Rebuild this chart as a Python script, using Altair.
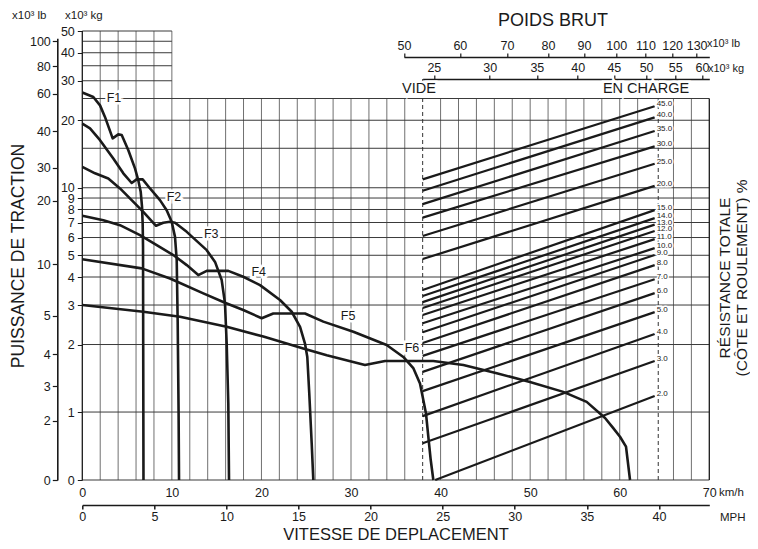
import math
import altair as alt
import pandas as pd

FONT = "Liberation Sans"
INK = "#1a1a1a"
GRID_V = "#707070"
GRID_H = "#3a3a3a"

# ---------------- axis ticks ----------------
speed_ticks_kmh = [0, 10, 20, 30, 40, 50, 60, 70]
speed_ticks_mph = [0, 5, 10, 15, 20, 25, 30, 35, 40]
force_ticks_kg = [0, 1, 2, 3, 4, 5, 6, 7, 8, 9, 10, 20, 30, 40, 50]
force_ticks_lb = ["0", "2", "3", "4", "5", "10", "20", "30", "40", "60", "80", "100"]
force_ticks_lb_at_kg = [0, 0.87, 1.30, 1.81, 2.69, 4.55, 8.74, 12.3, 17.9, 26.3, 34.9, 45.0]
weight_ticks_lb = [50, 60, 70, 80, 90, 100, 110, 120, 130]
weight_ticks_kg = [25, 30, 35, 40, 45, 50, 55, 60]
grid_kg_full = [0, 1, 2, 3, 4, 5, 6, 7, 8, 9, 10, 15, 20, 25]
grid_kg_top = [30, 35, 40, 45, 50]

# ---------------- rimpull curves (km/h, kg x1000) ----------------
F1_x = [0, 1.23, 1.98, 2.53, 3.39, 4.02, 4.40, 5.14, 5.88, 6.25, 6.52, 6.67, 6.74, 6.78, 6.80, 6.83]
F1_y = [26.6, 25.4, 23.3, 20.7, 16.6, 17.3, 17.2, 14.7, 12.2, 10.8, 9.6, 8.2, 6.9, 5.45, 2.0, 0]
F2_x = [0, 0.86, 1.98, 3.46, 4.58, 5.51, 6.07, 6.74, 7.56, 8.67, 9.42, 9.98, 10.35, 10.54, 10.65, 10.75, 10.8]
F2_y = [19.3, 18.4, 16.3, 13.5, 11.6, 10.5, 10.9, 10.9, 9.93, 8.81, 7.94, 7.05, 6.04, 4.76, 2.5, 1.0, 0]
F3_x = [0, 1.42, 2.9, 4.21, 5.51, 6.81, 8.23, 9.04, 9.79, 10.35, 11.66, 13.89, 14.82, 15.56, 15.93, 16.12, 16.3, 16.38]
F3_y = [12.4, 11.6, 11.0, 9.93, 8.81, 7.81, 6.77, 6.98, 7.05, 6.98, 6.36, 5.27, 4.67, 3.88, 3.05, 2.02, 1.09, 0]
F4_x = [0, 2.35, 4.21, 6.44, 8.31, 10.16, 11.66, 12.95, 13.89, 16.3, 17.97, 19.84, 22.07, 23.38, 24.31, 24.86, 25.12, 25.34, 25.61, 25.79]
F4_y = [7.5, 7.17, 6.81, 6.15, 5.55, 5.01, 4.52, 4.08, 4.26, 4.26, 4.01, 3.68, 3.16, 2.80, 2.40, 2.02, 1.76, 1.21, 0.54, 0]
F5_x = [0, 6.63, 9.79, 13.51, 15.93, 17.97, 20.03, 21.32, 24.86, 26.91, 30.26, 33.98, 35.84, 36.95, 37.7, 38.0, 38.37, 38.63, 38.9, 39.19]
F5_y = [4.8, 4.37, 3.94, 3.38, 3.07, 2.85, 2.62, 2.75, 2.75, 2.53, 2.28, 1.99, 1.76, 1.57, 1.34, 1.17, 0.98, 0.637, 0.294, 0]
F6_x = [0, 6.81, 10.91, 16.12, 20.21, 24.67, 27.29, 31.56, 33.8, 39.19, 42.54, 46.27, 49.98, 53.7, 56.31, 58.36, 59.3, 60.03, 60.7, 61.15]
F6_y = [3.0, 2.80, 2.66, 2.40, 2.17, 1.92, 1.79, 1.62, 1.69, 1.69, 1.62, 1.49, 1.36, 1.23, 1.11, 0.912, 0.76, 0.637, 0.49, 0]

curve_names = ["F1", "F2", "F3", "F4", "F5", "F6"]
curve_xs = [F1_x, F2_x, F3_x, F4_x, F5_x, F6_x]
curve_ys = [F1_y, F2_y, F3_y, F4_y, F5_y, F6_y]
curve_label_x = [3.54, 10.24, 14.4, 19.7, 29.67, 36.8]
curve_label_y = [25.1, 9.08, 6.22, 4.21, 2.68, 1.93]

# ---------------- total resistance lines ----------------
res_pct = [45, 40, 35, 30, 25, 20, 15, 14, 13, 12, 11, 10, 9, 8, 7, 6, 5, 4, 3, 2]
res_start_kg = [10.9, 9.70, 8.45, 7.36, 6.09, 4.81, 3.50, 3.29, 3.09, 2.91, 2.71, 2.49, 2.27, 2.03, 1.78, 1.51, 1.24, 0.94, 0.54, 0]
res_end_kg = [23.1, 20.6, 17.9, 15.3, 12.8, 10.2, 7.95, 7.32, 6.85, 6.41, 5.90, 5.38, 5.01, 4.52, 3.91, 3.39, 2.79, 2.23, 1.69, 1.18]
res_start_kmh = [38.0] * 19 + [39.4]
res_end_kmh = [63.9] * 20

empty_kmh = 38.0      # VIDE
loaded_kmh = 64.3     # EN CHARGE

# ---------------- geometry ----------------
W, H = 627, 449
K = 3.3
UMAX = 1 + K * math.log10(50)
PX_PER_U = H / UMAX
KMH_PER_MPH = 1.609344


def to_u(kg):
    return kg if kg <= 1 else 1 + K * math.log10(kg)


def u_expr(f):
    return f"datum.{f} <= 1 ? datum.{f} : 1 + {K} * log(datum.{f}) / LN10"


X_MAIN = alt.Scale(domain=[0, 70], nice=False, zero=False)
Y_MAIN = alt.Scale(domain=[0, UMAX], nice=False, zero=False)

# ---------------- grid ----------------
vrows = []
for x in range(2, 70, 2):
    if x in (38, 64):
        continue
    vrows.append({"x": x, "k0": 0, "k1": 50 if x <= 10 else 25})
vgrid = alt.Chart(pd.DataFrame(vrows)).transform_calculate(
    u0=u_expr("k0"), u1=u_expr("k1")
).mark_rule(color=GRID_V, strokeWidth=1).encode(
    x=alt.X("x:Q", scale=X_MAIN, axis=alt.Axis(
        orient="bottom", values=speed_ticks_kmh, title=None, tickSize=0,
        labelPadding=6, domain=False, grid=False, labelFlush=False,
        labelOverlap=False, labelFontSize=12.5, labelColor=INK, labelFont=FONT)),
    y=alt.Y("u0:Q", scale=Y_MAIN, axis=None),
    y2="u1:Q",
)

border = alt.Chart(pd.DataFrame([{"x": 0, "k0": 0, "k1": 50}, {"x": 70, "k0": 0, "k1": 25}])).transform_calculate(
    u0=u_expr("k0"), u1=u_expr("k1")
).mark_rule(color=INK, strokeWidth=1.3).encode(
    x=alt.X("x:Q", scale=X_MAIN, axis=None),
    y=alt.Y("u0:Q", scale=Y_MAIN, axis=None),
    y2="u1:Q",
)

hrows = [{"kg": k, "x0": 0, "x1": 70} for k in grid_kg_full] + \
        [{"kg": k, "x0": 0, "x1": 10} for k in grid_kg_top]
hgrid = alt.Chart(pd.DataFrame(hrows)).transform_calculate(
    u=u_expr("kg")
).mark_rule(color=GRID_H, strokeWidth=1).encode(
    y=alt.Y("u:Q", scale=Y_MAIN, axis=alt.Axis(
        orient="left", values=[round(to_u(v), 5) for v in force_ticks_kg],
        labelExpr="datum.value <= 1.0001 ? format(datum.value, '.0f') : format(pow(10, (datum.value - 1) / 3.3), '.0f')",
        title=None, tickSize=5, tickColor=INK, domain=False, grid=False, labelPadding=3,
        labelFontSize=12.5, labelColor=INK, labelFont=FONT, labelOverlap=False, labelFlush=False)),
    x=alt.X("x0:Q", scale=X_MAIN, axis=None),
    x2="x1:Q",
)

# dashed weight markers (VIDE / EN CHARGE)
dashed = alt.Chart(pd.DataFrame({"x": [empty_kmh, loaded_kmh], "k0": [0, 0]})).transform_calculate(
    u0=u_expr("k0")
).mark_rule(color="#333333", strokeWidth=1, strokeDash=[4, 3]).encode(
    x=alt.X("x:Q", scale=X_MAIN, axis=None),
    y=alt.Y("u0:Q", scale=Y_MAIN, axis=None),
    y2=alt.value(48),
)

# resistance lines
res_df = pd.DataFrame({"pct": res_pct, "k0": res_start_kg, "k1": res_end_kg,
                       "x0": res_start_kmh, "x1": res_end_kmh})
res_lines = alt.Chart(res_df).transform_calculate(
    u0=u_expr("k0"), u1=u_expr("k1")
).mark_rule(color=INK, strokeWidth=2.2).encode(
    x=alt.X("x0:Q", scale=X_MAIN, axis=None), x2="x1:Q",
    y=alt.Y("u0:Q", scale=Y_MAIN, axis=None), y2="u1:Q",
)
res_text_base = alt.Chart(res_df).transform_calculate(
    u1=u_expr("k1"), lab="format(datum.pct, '.1f')"
).encode(
    x=alt.X("x1:Q", scale=X_MAIN, axis=None),
    y=alt.Y("u1:Q", scale=Y_MAIN, axis=None),
    text="lab:N",
)
res_halo = res_text_base.mark_text(align="left", baseline="middle", dx=2, dy=-2, fontSize=8,
                                   font=FONT, stroke="white", strokeWidth=3, color="white")
res_text = res_text_base.mark_text(align="left", baseline="middle", dx=2, dy=-2, fontSize=8,
                                   font=FONT, color=INK)

# rimpull curves
crow = []
for n, xs, ys in zip(curve_names, curve_xs, curve_ys):
    for i, (a, b) in enumerate(zip(xs, ys)):
        crow.append({"name": n, "i": i, "x": a, "kg": b})
curves = alt.Chart(pd.DataFrame(crow)).transform_calculate(
    u=u_expr("kg")
).mark_line(color=INK, strokeWidth=2.6, strokeJoin="round").encode(
    x=alt.X("x:Q", scale=X_MAIN, axis=None),
    y=alt.Y("u:Q", scale=Y_MAIN, axis=None),
    detail="name:N",
    order="i:Q",
)

lab_df = pd.DataFrame({"name": curve_names, "x": curve_label_x, "kg": curve_label_y})
lab_base = alt.Chart(lab_df).transform_calculate(u=u_expr("kg")).encode(
    x=alt.X("x:Q", scale=X_MAIN, axis=None),
    y=alt.Y("u:Q", scale=Y_MAIN, axis=None),
    text="name:N",
)
lab_halo = lab_base.mark_text(fontSize=12.5, font=FONT, stroke="white", strokeWidth=5, color="white")
lab_text = lab_base.mark_text(fontSize=12.5, font=FONT, color=INK)

# ---------------- secondary axes ----------------
AX = dict(title=None, grid=False, labelFont=FONT, labelColor=INK, domainColor=INK,
          tickColor=INK, labelFlush=False, labelOverlap=False)

mph_axis = alt.Chart(pd.DataFrame({"mph": speed_ticks_mph})).mark_point(opacity=0).encode(
    x=alt.X("mph:Q", scale=alt.Scale(domain=[0, 70 / KMH_PER_MPH], nice=False, zero=False),
            axis=alt.Axis(orient="bottom", offset=25, values=speed_ticks_mph, tickSize=4,
                          tickWidth=1.5, domainWidth=1.6, labelPadding=1, labelFontSize=12.5, **AX)),
)

lb_lo, lb_hi = 50, 135.5
lb_px0 = 321.7
lbtop_axis = alt.Chart(pd.DataFrame({"lb": weight_ticks_lb})).mark_point(opacity=0).encode(
    x=alt.X("lb:Q", scale=alt.Scale(type="log", domain=[lb_lo, lb_hi], range=[lb_px0, W], nice=False),
            axis=alt.Axis(orient="top", offset=-26, values=weight_ticks_lb, tickSize=4, tickWidth=1.2,
                          domainWidth=1.6, labelPadding=1, labelFontSize=12.5, **AX)),
)
kg_lo, kg_hi = 24.1, lb_hi * 0.45359237
kg_px0 = lb_px0 + (W - lb_px0) * math.log10(kg_lo / 0.45359237 / lb_lo) / math.log10(lb_hi / lb_lo)
kgtop_axis = alt.Chart(pd.DataFrame({"kg": weight_ticks_kg})).mark_point(opacity=0).encode(
    x=alt.X("kg:Q", scale=alt.Scale(type="log", domain=[kg_lo, kg_hi], range=[kg_px0, W], nice=False),
            axis=alt.Axis(orient="top", offset=-48, values=weight_ticks_kg, tickSize=4, tickWidth=1.2,
                          domainWidth=1.6, labelPadding=1, labelFontSize=12.5, **AX)),
)

lb_u = [round(to_u(v), 5) for v in force_ticks_lb_at_kg]
lb_expr = "[" + ",".join(f"'{s}'" for s in force_ticks_lb) + "][indexof([" + \
    ",".join(repr(v) for v in lb_u) + "], datum.value)]"
lbleft_axis = alt.Chart(pd.DataFrame({"kg": force_ticks_lb_at_kg})).transform_calculate(
    u=u_expr("kg")
).mark_point(opacity=0).encode(
    y=alt.Y("u:Q", scale=alt.Scale(domain=[0, 6.5], range=[H, H - 6.5 * PX_PER_U], nice=False, zero=False),
            axis=alt.Axis(orient="left", offset=25, values=lb_u, labelExpr=lb_expr, tickSize=5,
                          tickWidth=1.2, domainWidth=1.6, labelPadding=2, labelFontSize=12.5, **AX)),
)

# ---------------- text annotations ----------------
OX, OY = 82.3, 31.0


def note(text, x, y, size, angle=0, align="center", baseline="middle", halo=False):
    d = alt.Chart(pd.DataFrame({"t": [text]}))
    enc = dict(x=alt.value(x - OX), y=alt.value(y - OY), text="t:N")
    layers = []
    if halo:
        layers.append(d.mark_text(fontSize=size, font=FONT, angle=angle, align=align, baseline=baseline,
                                  stroke="white", strokeWidth=5, color="white").encode(**enc))
    layers.append(d.mark_text(fontSize=size, font=FONT, angle=angle, align=align, baseline=baseline,
                              color=INK).encode(**enc))
    return layers


notes = []
notes += note("x10³ lb", 12, 16, 11.5, align="left")
notes += note("x10³ kg", 65, 16, 11.5, align="left")
notes += note("POIDS BRUT", 553, 21, 18)
notes += note("x10³ lb", 707, 44, 11, align="left")
notes += note("x10³ kg", 708, 69, 11, align="left")
notes += note("VIDE", 419, 89, 14.5, halo=True)
notes += note("EN CHARGE", 646, 89, 14.5, halo=True)
notes += note("km/h", 719, 493, 11.5, align="left")
notes += note("MPH", 720, 518, 11.5, align="left")
notes += note("VITESSE DE DEPLACEMENT", 396, 539.5, 16.5, baseline="alphabetic")
notes += note("PUISSANCE DE TRACTION", 19, 256, 17.5, angle=270)
notes += note("RÉSISTANCE TOTALE", 725, 278, 15.5, angle=270)
notes += note("(CÔTE ET ROULEMENT) %", 742, 278, 15.5, angle=270)

chart = alt.layer(
    vgrid, hgrid, border, dashed, res_lines, curves,
    res_halo, res_text, lab_halo, lab_text,
    mph_axis, lbtop_axis, kgtop_axis, lbleft_axis,
    *notes,
).resolve_scale(x="independent", y="independent").properties(
    width=W, height=H,
    autosize=alt.AutoSizeParams(type="none"),
    padding={"left": OX - 8, "top": OY - 8, "right": 742 - (OX - 8) - W, "bottom": 533 - (OY - 8) - H},
).configure_view(stroke=None).configure_text(font=FONT)

chart.save("out.html", embed_options={"renderer": "svg", "actions": False})
